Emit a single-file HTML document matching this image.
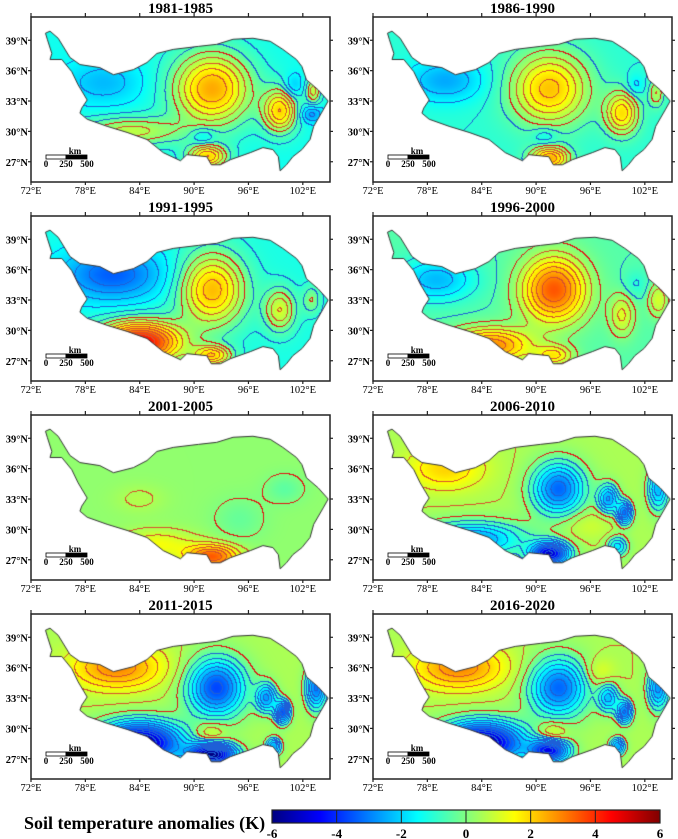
<!DOCTYPE html>
<html><head><meta charset="utf-8">
<style>
html,body{margin:0;padding:0;background:#fff;}
body{width:678px;height:839px;position:relative;overflow:hidden;font-family:"Liberation Serif",serif;}
canvas{position:absolute;left:0;top:0;}
svg{position:absolute;left:0;top:0;}
</style></head>
<body>
<canvas id="cv" width="678" height="839"></canvas>
<svg id="sv" width="678" height="839"></svg>
<script>
// ---- data ----
const periods = ["1981-1985","1986-1990","1991-1995","1996-2000","2001-2005","2006-2010","2011-2015","2016-2020"];
const baseValues = [-1.3,-1.0,-1.2,-0.5,0.2,0.5,0.5,0.5];
// anomaly centres per period: lon, lat, amplitude (K), spread lon, spread lat
const blobLon = [
 [92,99.5,91.5,103,101,103.2,80,83,91],
 [91.5,99.5,91.5,80,103.3,101,91],
 [92,81,84,99.5,92,103],
 [92,79,85,99.5,103.5,92,101],
 [92,86,95,100,84],
 [80,92.5,98,99.8,103.5,91.5,83,99,95.5],
 [81.5,92.5,84,92,98,99.8,103.5,98.8,91.8],
 [81.5,92.5,84,91.5,98,99.8,103.5,99,91.8,97]
];
const blobLat = [
 [34.2,32,27.5,31.7,34.5,34,34.8,30,29.5],
 [34.2,31.8,27.3,35,33.8,34.5,29.5],
 [34,35.5,28.8,32,27.5,33],
 [34,35,28.5,31.5,33,27.5,34.5],
 [27.3,28.5,31,34,33],
 [36,34,33,31.6,34,27.6,29,28.3,30.5],
 [36,34,28.6,27.4,33,31.6,34,28.2,29.5],
 [36,34,28.6,27.8,33,31.6,34,28.2,29.5,35.5]
];
const blobAmp = [
 [3.8,3.2,3.2,-1.5,-1.0,2.0,-1.0,2.0,-1.0],
 [3.2,2.8,3.4,-1.5,1.5,-0.8,-0.8],
 [3.5,-2.2,6.0,2.2,3.0,1.2],
 [4.0,-1.8,3.4,1.6,1.5,2.0,-0.6],
 [3.2,1.2,-0.5,-0.6,0.4],
 [1.5,-3.8,-3.0,-3.6,-2.8,-5.5,-3.2,-2.2,0.5],
 [2.4,-4.2,-6.5,-6.5,-3.0,-4.0,-3.6,-3.0,1.0],
 [2.4,-3.8,-6.5,-5.0,-2.6,-3.5,-3.2,-3.0,1.2,0.8]
];
const blobSx = [
 [3,1.3,1.5,0.8,0.7,0.6,3,4,1],
 [3,1.3,1.5,3,0.6,0.7,1],
 [2.5,4,3.2,1.2,1.5,0.7],
 [2.5,3,3.2,1,0.8,1.5,1],
 [2,3,2,1.5,2],
 [3,2,0.8,0.6,0.8,1.5,4,0.8,2],
 [3.5,2.2,3.2,1.8,0.8,0.6,0.8,0.6,1.2],
 [3.5,2.2,3.2,1.5,0.8,0.6,0.8,0.6,1.2,1.2]
];
const blobSy = [
 [2.5,1.5,0.8,0.6,0.8,1,1.5,1,0.6],
 [2.5,1.5,0.8,1.5,1,0.8,0.6],
 [2.5,1.8,1.4,1.5,0.7,1],
 [2.3,1.5,1.2,1.5,1.2,0.7,1],
 [0.8,1,1.5,1,1],
 [1.5,1.8,1,0.8,1.5,0.8,1.2,0.7,1],
 [1.5,2,1.4,0.8,1,0.8,1.5,0.6,0.8],
 [1.5,2,1.4,0.8,1,0.8,1.5,0.6,0.8,1]
];
const xTicks = [72,78,84,90,96,102];
const yTicks = [39,36,33,30,27];
const cbTicks = [-6,-4,-2,0,2,4,6];
const outline = [[73.6,39.7],[74.1,39.9],[75.0,39.2],[76.3,37.3],[77.4,36.6],[79.6,36.3],[81.1,35.6],[83.3,36.1],[84.8,36.8],[85.9,37.7],[87.7,38.1],[90.5,38.4],[92.5,38.6],[94.3,39.1],[96.5,39.2],[98.4,38.9],[99.8,38.1],[101.3,37.1],[101.9,36.4],[102.4,35.1],[103.7,34.1],[104.8,33.0],[104.3,32.2],[103.2,30.5],[102.8,29.2],[101.9,28.2],[100.9,27.5],[100.2,26.7],[99.5,26.1],[99.3,27.5],[98.7,28.2],[97.6,28.4],[96.2,27.9],[94.0,27.2],[92.9,26.7],[91.9,26.7],[91.4,27.5],[89.2,27.7],[88.5,27.1],[86.6,27.9],[84.8,29.2],[82.6,29.9],[80.4,30.5],[78.2,31.2],[77.4,31.8],[77.6,32.3],[78.2,33.1],[77.2,34.6],[76.5,35.9],[75.4,37.1],[74.1,37.1],[74.3,37.7],[73.8,39.1]];

// ---- geometry ----
const colX = [31,373], rowY = [17,216,415,614], BW = 299, BH = 165;
const LON0 = 72, LON1 = 105, LAT0 = 25, LAT1 = 41.3;
function xs(px0, lon){ return px0 + (lon-LON0)/(LON1-LON0)*BW; }
function ys(py0, lat){ return py0 + (LAT1-lat)/(LAT1-LAT0)*BH; }
function jet(v){
  let t = (v+6)/12; t=Math.max(0,Math.min(1,t));
  const c = x=>Math.round(255*Math.max(0,Math.min(1,x)));
  return [c(1.5-Math.abs(4*t-3)), c(1.5-Math.abs(4*t-2)), c(1.5-Math.abs(4*t-1))];
}
function field(p, lon, lat){
  let v = baseValues[p];
  for(let i=0;i<blobLon[p].length;i++){
    const dx=(lon-blobLon[p][i])/blobSx[p][i], dy=(lat-blobLat[p][i])/blobSy[p][i];
    v += blobAmp[p][i]*Math.exp(-0.5*(dx*dx+dy*dy));
  }
  return v;
}
const ctx = document.getElementById('cv').getContext('2d');
const svg = document.getElementById('sv');
const NS = "http://www.w3.org/2000/svg";
function mk(tag, attrs, parent){
  const e = document.createElementNS(NS, tag);
  for(const k in attrs) e.setAttribute(k, attrs[k]);
  (parent||svg).appendChild(e); return e;
}

periods.forEach((name, p)=>{
  const px0 = colX[p%2], py0 = rowY[Math.floor(p/2)];
  const off = document.createElement('canvas'); off.width=BW; off.height=BH;
  const oc = off.getContext('2d'); const img = oc.createImageData(BW,BH);
  const vals = new Float32Array(BW*BH);
  for(let j=0;j<BH;j++) for(let i=0;i<BW;i++){
    const lon = LON0+(i+0.5)/BW*(LON1-LON0), lat = LAT1-(j+0.5)/BH*(LAT1-LAT0);
    vals[j*BW+i] = field(p, lon, lat);
  }
  const lev = v=>Math.floor(v/0.5);
  for(let j=0;j<BH;j++) for(let i=0;i<BW;i++){
    const k=j*BW+i, v=vals[k], L=lev(v);
    let col = jet(v);
    let bl = null;
    if(i<BW-1 && lev(vals[k+1])!==L) bl = Math.max(L,lev(vals[k+1]));
    else if(j<BH-1 && lev(vals[k+BW])!==L) bl = Math.max(L,lev(vals[k+BW]));
    if(bl!==null){
      if(bl===0) col=[225,20,20];
      else if(bl>0) col=[215,80,45];
      else col=[30,95,215];
    }
    img.data[k*4]=col[0]; img.data[k*4+1]=col[1]; img.data[k*4+2]=col[2]; img.data[k*4+3]=255;
  }
  oc.putImageData(img,0,0);
  ctx.save();
  ctx.beginPath();
  outline.forEach((pt,i)=>{ const x=xs(px0,pt[0]), y=ys(py0,pt[1]); i?ctx.lineTo(x,y):ctx.moveTo(x,y); });
  ctx.closePath();
  ctx.save(); ctx.clip(); ctx.drawImage(off,px0,py0); ctx.restore();
  ctx.strokeStyle="#333"; ctx.lineWidth=1; ctx.stroke();
  ctx.restore();

  const g = mk('g',{});
  
  
  const t = mk('text',{x:px0+BW/2,y:py0-4,'text-anchor':'middle','font-size':'15','font-weight':'bold','font-family':'Liberation Serif, serif'},g);
  t.textContent = name;
  
  
  const fr = mk('rect',{x:px0,y:py0,width:BW,height:BH,fill:'none',stroke:'#222','stroke-width':'1.5'},g);
  
  
  xTicks.forEach(lon=>{
    const x=xs(px0,lon);
    mk('line',{x1:x,x2:x,y1:py0,y2:py0-4,stroke:'#222','stroke-width':'1.2'},g);
    mk('line',{x1:x,x2:x,y1:py0+BH,y2:py0+BH+3,stroke:'#222','stroke-width':'1.2'},g);
    const l = mk('text',{x:x,y:py0+BH+12,'text-anchor':'middle','font-size':'10.5','font-family':'Liberation Serif, serif'},g);
    l.textContent = lon+'°E';
    
    
  });
  yTicks.forEach(lat=>{
    const y=ys(py0,lat);
    mk('line',{x1:px0,x2:px0-3,y1:y,y2:y,stroke:'#222','stroke-width':'1.2'},g);
    mk('line',{x1:px0+BW,x2:px0+BW+3,y1:y,y2:y,stroke:'#222','stroke-width':'1.2'},g);
    const l = mk('text',{x:px0-3,y:y+4,'text-anchor':'end','font-size':'10.5','font-weight':'bold','font-family':'Liberation Serif, serif'},g);
    l.textContent = lat+'°N';
    
    
  });
  const sx0 = px0+15, sy0 = py0+138;
  const sb = mk('g',{},g);
  
  
  mk('rect',{x:sx0,y:sy0,width:20,height:4,fill:'#fff',stroke:'#000','stroke-width':'0.8'},sb);
  mk('rect',{x:sx0+20,y:sy0,width:21,height:4,fill:'#000',stroke:'#000','stroke-width':'0.8'},sb);
  const km = mk('text',{x:sx0+29,y:sy0-1,'text-anchor':'middle','font-size':'9','font-weight':'bold'},sb); km.textContent='km';
  [[0,'0'],[20,'250'],[41,'500']].forEach(a=>{
    const tt = mk('text',{x:sx0+a[0],y:sy0+12,'text-anchor':'middle','font-size':'9','font-weight':'bold'},sb); tt.textContent=a[1];
  });
});

// colorbar
const CBX0=272, CBX1=660, CBY=810, CBH=13;
const cb = mk('g',{});


const defs = mk('defs',{},cb);
const grad = mk('linearGradient',{id:'jg',x1:'0',x2:'1',y1:'0',y2:'0'},defs);
for(let s=0;s<=24;s++){
  const v=-6+s*0.5, c=jet(v);
  mk('stop',{offset:(s/24),'stop-color':'rgb('+c.join(',')+')'},grad);
}
mk('rect',{x:CBX0,y:CBY,width:CBX1-CBX0,height:CBH,fill:'url(#jg)',stroke:'#222','stroke-width':'1.2'},cb);
cbTicks.forEach(v=>{
  const x = CBX0+(v+6)/12*(CBX1-CBX0);
  mk('line',{x1:x,x2:x,y1:CBY,y2:CBY+CBH,stroke:'#222','stroke-width':'1'},cb);
  const l = mk('text',{x:x,y:838,'text-anchor':'middle','font-size':'13','font-weight':'bold'},cb);
  l.textContent = String(v);
  
  
});
const ct = mk('text',{x:24,y:829,'font-size':'18','font-weight':'bold'});
ct.textContent = 'Soil temperature anomalies (K)';


</script>
</body></html>
